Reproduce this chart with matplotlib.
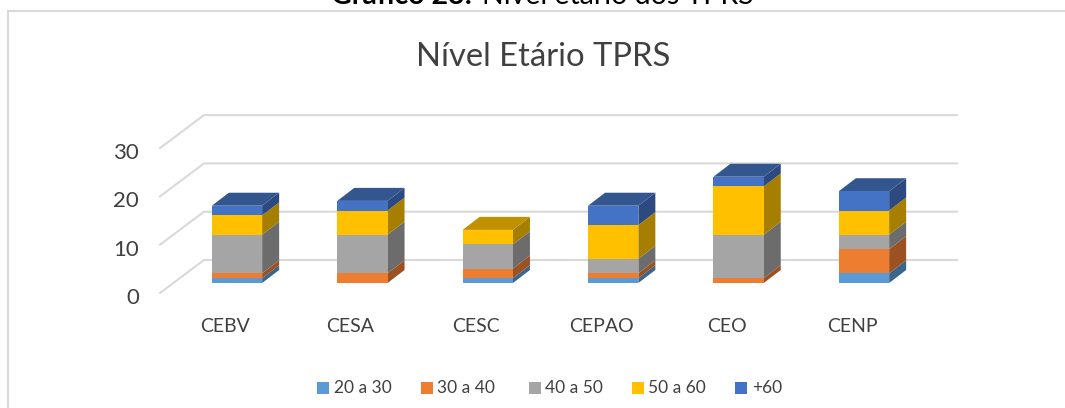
import numpy as np
import matplotlib.pyplot as plt
from matplotlib.patches import Polygon, Rectangle

plt.rcParams['font.family'] = ['Lato', 'DejaVu Sans']

W, H = 1065, 408

categories = ["CEBV", "CESA", "CESC", "CEPAO", "CEO", "CENP"]
ages = ["20 a 30", "30 a 40", "40 a 50", "50 a 60", "+60"]
v20_30 = [1, 0, 1, 1, 0, 2]
v30_40 = [1, 2, 2, 1, 1, 5]
v40_50 = [8, 8, 5, 3, 9, 3]
v50_60 = [4, 5, 3, 7, 10, 5]
v60 = [2, 2, 0, 4, 2, 4]
yticks = [0, 10, 20, 30]

front = ['#5b9bd5', '#ed7d31', '#a5a5a5', '#ffc000', '#4472c4']
side = ['#3b668c', '#9b5220', '#6c6c6c', '#a67e00', '#2c4a80']
top = ['#4a7eae', '#c06628', '#868686', '#c09000', '#34568f']

# one axes over the whole figure: x in categories, y in values
px_x = 125.4
px_y = 4.83
x0 = 237
y0 = 283
bar_w = 50.3 / px_x
dep_x, dep_y = 17 / px_x, 13 / px_y      # bar depth
wall_x, wall_y = 33 / px_x, 23 / px_y    # front of bars to back wall
floor_x, floor_y = 44 / px_x, 33 / px_y  # length of the left diagonals

fig = plt.figure(figsize=(W / 100, H / 100), dpi=100)
ax = fig.add_axes([0, 0, 1, 1])
ax.set_xlim(-x0 / px_x, (W - x0) / px_x)
ax.set_ylim(-(H - y0) / px_y, y0 / px_y)
ax.axis('off')

x_pos = np.arange(len(categories))
left_x = -0.5 + (204 - 237 + 62.7) / px_x - floor_x
right_x = (957 - x0) / px_x

# chart frame, only top and left are in the crop
to_x = lambda p: (p - x0) / px_x
to_y = lambda p: (y0 - p) / px_y
ax.plot([to_x(8), to_x(8), to_x(W)], [to_y(H), to_y(11), to_y(11)],
        color='#d9d9d9', lw=1.5, zorder=1, solid_joinstyle='miter')

# grid on back wall and side wall
for t in yticks:
    ax.plot([left_x, left_x + floor_x, right_x],
            [t + wall_y - floor_y, t + wall_y, t + wall_y],
            color='#d9d9d9', lw=1.5, zorder=2, solid_joinstyle='miter')
    ax.text(to_x(139), t + wall_y - floor_y - 5 / px_y, str(t), ha='right', va='center',
            fontsize=16, color='#404040', zorder=3)

series = [v20_30, v30_40, v40_50, v50_60, v60]
bottom = np.zeros(len(categories))
totals = np.sum(series, axis=0)
for k, vals in enumerate(series):
    vals = np.array(vals, dtype=float)
    ax.bar(x_pos, vals, bar_w, bottom=bottom, color=front[k], zorder=5, label=ages[k])
    for i in x_pos:
        if vals[i] == 0:
            continue
        xr = i + bar_w / 2
        b, h = bottom[i], bottom[i] + vals[i]
        ax.add_patch(Polygon([(xr, b), (xr + dep_x, b + dep_y), (xr + dep_x, h + dep_y), (xr, h)],
                             fc=side[k], ec='none', zorder=4))
        if h == totals[i]:
            xl = i - bar_w / 2
            ax.add_patch(Polygon([(xl, h), (xr, h), (xr + dep_x, h + dep_y), (xl + dep_x, h + dep_y)],
                                 fc=top[k], ec='none', zorder=4))
    bottom += vals

# category labels
for i, c in enumerate(categories):
    ax.text(i - 12 / px_x, to_y(327), c, ha='center', va='center', fontsize=14, color='#404040', zorder=3)

# title and the cut off caption above the frame
ax.text(to_x(543.5), to_y(57), "Nível Etário TPRS", ha='center', va='center', fontsize=23.6,
        color='#404040', zorder=3)
ax.text(to_x(472), to_y(4), "Gráfico 23:", ha='right', va='baseline', fontsize=20.5,
        fontweight='bold', color='black', zorder=3)
ax.text(to_x(482), to_y(4), "Nível etário dos TPRS", ha='left', va='baseline', fontsize=20.5,
        color='black', zorder=3)

# legend
leg_sq = [317, 421, 529, 632, 735]
leg_tx = [334, 437, 545, 648, 752]
for k, a in enumerate(ages):
    ax.add_patch(Rectangle((to_x(leg_sq[k]), to_y(394)), 12 / px_x, 12 / px_y, fc=front[k], ec='none', zorder=3))
    ax.text(to_x(leg_tx[k]), to_y(388), a, ha='left', va='center', fontsize=12.5, color='#404040', zorder=3)

fig.savefig("out.png", dpi=100)
